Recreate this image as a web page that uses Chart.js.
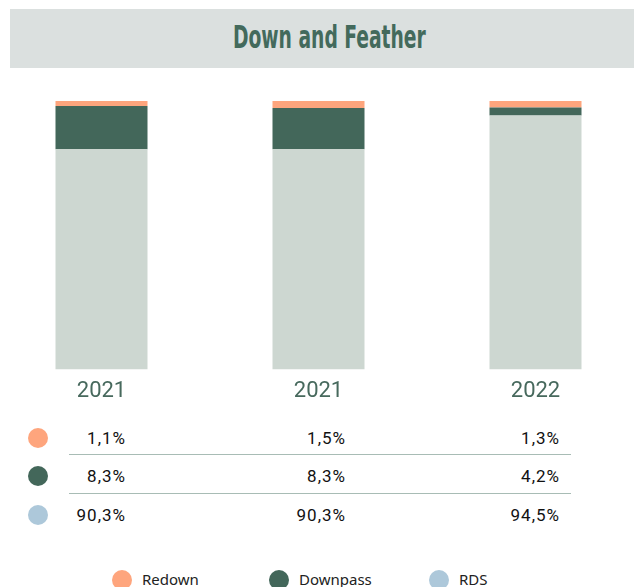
<!DOCTYPE html>
<html lang="en">
<head>
  <meta charset="UTF-8">
  <title>Down and Feather</title>
  <style>
    body {
      margin: 0;
      width: 634px;
      height: 587px;
      overflow: hidden;
      position: relative;
      background: white;
      font-family: Roboto, Arial, sans-serif;
    }
    .banner {
      position: absolute;
      left: 10px;
      top: 9px;
      width: 638px;
      height: 59px;
      background: #dbe0df;
      text-align: center;
    }
    .banner span {
      display: inline-block;
      margin-top: 10px;
      font-family: "Liberation Sans Narrow", "DejaVu Sans Condensed", sans-serif;
      font-weight: bold;
      font-size: 32px;
      line-height: 36px;
      color: #436a5c;
      transform: scaleX(0.65);
    }
    .chart-box {
      position: absolute;
      left: -7.5px;
      top: 80px;
      width: 651px;
      height: 341px;
    }
    .dot {
      position: absolute;
      width: 20px;
      height: 20px;
      border-radius: 50%;
    }
    .val {
      position: absolute;
      height: 20px;
      line-height: 20px;
      font-size: 17px;
      letter-spacing: 1px;
      color: #111;
      text-align: right;
    }
    .rule {
      position: absolute;
      left: 69px;
      width: 502px;
      height: 1px;
      background: #a8bcb5;
    }
    .leg {
      position: absolute;
      font-family: "Noto Sans", sans-serif;
      font-size: 15px;
      color: #222;
      line-height: 20px;
    }
  </style>
</head>
<body>
  <div class="banner"><span>Down and Feather</span></div>
  <div class="chart-box"><canvas id="chart"></canvas></div>
  <div id="table"></div>
  <div id="legend"></div>

  <script src="https://cdn.jsdelivr.net/npm/chart.js"></script>
  <script>
    const years = ['2021', '2021', '2022'];
    const seriesNames = ['Redown', 'Downpass', 'RDS'];
    const seriesColors = ['#fea57d', '#43675a', '#adc8da'];
    const barColors = ['#fea57d', '#43675a', '#cdd7d1'];

    // values printed in the table (%)
    const redown = [1.1, 1.5, 1.3];
    const downpass = [8.3, 8.3, 4.2];
    const rds = [90.3, 90.3, 94.5];

    // bar segment heights as drawn in the picture (% of bar)
    const barRedown = [1.9, 2.6, 2.4];
    const barDownpass = [16.1, 15.4, 3.0];
    const barRds = [82.0, 82.0, 94.6];

    const ctx = document.getElementById('chart').getContext('2d');
    new Chart(ctx, {
      type: 'bar',
      data: {
        labels: years,
        datasets: [
          { label: 'RDS', data: barRds, backgroundColor: barColors[2] },
          { label: 'Downpass', data: barDownpass, backgroundColor: barColors[1] },
          { label: 'Redown', data: barRedown, backgroundColor: barColors[0] }
        ]
      },
      options: {
        responsive: true,
        maintainAspectRatio: false,
        animation: false,
        barPercentage: 0.424,
        categoryPercentage: 1,
        layout: { padding: { top: 21, bottom: 7 } },
        plugins: {
          legend: { display: false },
          tooltip: { enabled: false }
        },
        scales: {
          x: {
            stacked: true,
            grid: { display: false, drawTicks: false },
            border: { display: false },
            ticks: {
              color: '#47695d',
              padding: 9,
              font: { family: 'Roboto', size: 22 }
            }
          },
          y: {
            stacked: true,
            display: false,
            min: 0,
            max: 100
          }
        }
      }
    });

    // value table under the bars
    const fmt = v => v.toFixed(1).replace('.', ',') + '%';
    const rows = [redown, downpass, rds];
    const rowY = [438, 476, 515];
    const colRight = [125, 345, 559];
    const table = document.getElementById('table');
    rows.forEach((row, i) => {
      const dot = document.createElement('div');
      dot.className = 'dot';
      dot.style.left = '28px';
      dot.style.top = (rowY[i] - 10) + 'px';
      dot.style.background = seriesColors[i];
      table.appendChild(dot);
      row.forEach((v, j) => {
        const s = document.createElement('div');
        s.className = 'val';
        s.textContent = fmt(v);
        s.style.right = (634 - colRight[j] - 1) + 'px';
        s.style.top = (rowY[i] - 10) + 'px';
        table.appendChild(s);
      });
    });
    [454, 493].forEach(y => {
      const r = document.createElement('div');
      r.className = 'rule';
      r.style.top = y + 'px';
      table.appendChild(r);
    });

    // legend at the bottom
    const legX = [112, 269, 429];
    const legend = document.getElementById('legend');
    seriesNames.forEach((name, i) => {
      const dot = document.createElement('div');
      dot.className = 'dot';
      dot.style.left = legX[i] + 'px';
      dot.style.top = '570px';
      dot.style.background = seriesColors[i];
      legend.appendChild(dot);
      const t = document.createElement('div');
      t.className = 'leg';
      t.textContent = name;
      t.style.left = (legX[i] + 30) + 'px';
      t.style.top = '569px';
      legend.appendChild(t);
    });
  </script>
</body>
</html>
